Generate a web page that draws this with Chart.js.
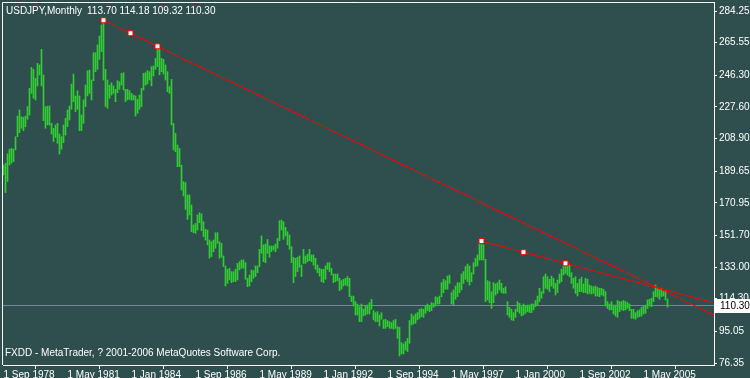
<!DOCTYPE html>
<html>
<head>
<meta charset="utf-8">
<script src="https://cdn.jsdelivr.net/npm/chart.js@4.4.1/dist/chart.umd.min.js"></script>
<style>
  html, body { margin: 0; padding: 0; background: #2f4f4f; overflow: hidden; }
  canvas { display: block; }
</style>
</head>
<body>
<canvas id="mt4" width="750" height="378"></canvas>
<script>
// USDJPY monthly bars, one per month starting Sep 1978 (index 0)
const barHigh = [
  193.3,194.3,199.8,202.6,203.1,202.6,210.0,222.2,225.8,221.8,
  221.5,222.2,227.8,238.6,251.0,249.8,244.5,253.3,252.4,261.6,
  246.5,227.8,228.1,228.1,217.9,215.0,216.9,217.9,211.6,210.0,
  216.9,220.9,225.8,228.1,241.1,247.0,234.1,237.2,234.1,222.8,
  231.7,240.5,249.0,249.4,243.5,259.6,259.6,264.2,269.5,276.0,
  278.8,249.8,243.5,240.5,241.9,240.0,238.0,243.1,242.5,247.4,
  247.8,238.0,238.0,237.2,235.6,234.6,234.1,232.1,234.6,238.6,
  247.4,247.8,249.0,248.4,251.4,251.8,256.3,263.4,261.6,256.3,
  255.7,252.4,248.4,239.6,243.9,217.9,212.0,205.1,203.1,193.3,
  183.5,182.9,175.6,175.6,169.7,157.9,158.8,163.8,165.1,164.4,
  159.8,155.3,154.9,149.0,148.0,149.0,153.3,153.3,148.0,147.0,
  139.6,133.6,131.7,132.3,130.3,130.3,131.7,135.2,136.2,
  137.2,137.2,135.6,126.4,128.3,131.3,130.9,133.7,133.7,143.5,
  151.4,146.1,146.6,149.4,145.5,145.5,145.5,146.6,150.0,160.4,
  160.8,159.8,156.5,153.9,151.9,145.1,138.8,138.2,138.8,139.6,
  134.2,143.5,139.6,140.7,143.5,140.2,140.2,138.2,134.2,132.3,
  131.7,131.7,133.7,135.6,135.6,132.3,128.9,128.9,128.9,126.4,
  125.0,125.8,126.4,127.4,126.4,115.9,115.9,112.6,111.2,109.6,
  111.2,108.1,110.0,110.6,112.0,114.0,107.3,106.1,106.7,104.7,
  106.1,101.8,102.2,101.4,100.8,100.2,101.4,102.2,97.8,97.4,
  88.4,87.6,89.0,90.9,101.4,105.3,104.1,105.3,106.1,108.1,
  108.5,108.1,110.0,111.2,110.0,112.0,111.6,115.5,115.1,115.9,
  123.8,125.8,125.0,127.7,128.3,117.9,119.5,121.8,123.8,123.8,
  128.9,130.3,133.3,134.8,133.7,129.7,135.6,138.2,140.2,147.0,
  148.4,146.1,137.6,125.0,124.4,118.5,123.8,123.0,123.8,125.4,
  123.4,120.5,121.4,112.6,109.2,108.1,106.1,108.1,112.6,111.6,
  109.6,111.2,110.0,110.6,110.6,111.2,111.2,113.2,115.9,120.5,
  118.5,127.3,128.9,127.3,125.8,127.7,126.4,123.4,125.4,128.9,
  131.7,133.6,135.2,135.6,134.2,129.7,126.4,127.3,123.4,125.8,
  127.0,123.0,126.4,125.8,122.4,121.8,121.4,121.8,121.0,120.5,
  120.5,119.9,118.5,112.6,111.2,112.6,110.6,110.6,113.2,112.6,
  112.6,113.2,112.6,112.0,111.2,108.1,108.1,106.1,107.3,107.7,
  109.2,110.0,110.6,113.6,114.0,114.6,118.5,122.4,121.0,120.5,
  120.5,119.5,119.1,114.18
];
const barLow = [
  187.4,177.0,183.5,193.3,194.3,195.3,202.2,210.0,212.4,215.0,
  213.6,215.9,220.3,222.8,235.6,232.7,231.7,240.0,246.5,240.0,
  219.5,215.0,216.9,216.9,211.6,207.1,209.6,206.1,199.8,202.6,
  206.5,211.0,215.9,219.9,226.2,230.7,224.8,226.2,213.6,213.6,
  217.9,227.8,234.1,235.6,231.7,243.1,248.4,249.8,255.7,260.2,
  243.5,227.8,226.8,232.7,234.6,235.6,230.7,236.0,238.0,240.5,
  237.6,230.7,231.7,232.1,231.7,231.7,222.2,223.8,226.2,227.8,
  237.6,240.5,241.1,243.5,240.0,245.9,249.8,251.4,246.5,248.4,
  247.0,243.5,236.6,235.6,216.9,202.2,201.2,192.3,192.3,178.5,
  175.0,167.1,161.2,163.8,153.9,153.3,152.9,154.9,159.2,154.5,
  151.0,149.0,146.1,138.2,139.2,142.1,144.1,147.0,138.2,138.8,
  133.3,121.8,123.4,125.4,123.8,124.4,124.4,125.4,131.3,
  132.3,132.3,125.8,121.4,121.8,124.4,126.4,127.4,129.7,133.3,
  141.1,136.2,135.6,141.1,138.8,142.1,143.1,142.1,144.1,148.6,
  154.9,149.4,151.4,146.1,143.5,135.6,123.8,127.4,130.3,132.9,
  127.4,135.2,135.2,136.2,136.8,136.2,134.2,131.7,129.7,127.7,
  124.4,123.8,125.8,131.7,130.3,128.3,123.8,124.4,125.0,119.1,
  119.9,121.8,122.4,121.8,115.5,112.6,110.0,104.7,104.7,100.8,
  100.8,104.1,104.7,105.3,105.3,108.1,101.8,100.8,100.8,98.2,
  102.2,96.8,96.8,97.8,96.8,96.8,96.3,96.8,90.9,80.5,
  81.7,81.7,84.0,83.1,88.0,98.8,99.4,99.8,101.8,102.7,
  103.7,103.3,105.7,107.3,106.7,107.3,109.2,110.0,111.2,111.2,
  115.5,117.9,119.9,119.9,123.4,111.2,110.6,114.0,115.5,117.9,
  119.5,123.4,125.8,124.4,122.4,124.4,128.9,133.3,133.7,137.2,
  137.2,137.2,112.6,113.6,112.0,108.6,112.0,116.5,117.5,119.5,
  117.9,117.5,117.5,104.7,103.3,101.8,101.4,103.3,106.7,105.7,
  104.1,104.7,105.7,106.7,106.1,106.1,107.7,109.6,110.6,112.6,
  114.6,117.5,120.5,119.9,118.5,121.8,120.5,116.5,117.9,123.4,
  124.4,128.3,129.3,128.3,127.3,123.4,120.5,117.5,115.9,118.5,
  118.5,117.9,117.9,117.1,117.5,117.1,117.5,115.9,115.9,115.5,
  116.5,115.9,110.0,108.6,107.7,107.7,105.3,104.1,103.3,106.7,
  107.7,107.3,107.7,108.6,107.3,102.7,102.7,102.2,103.3,103.7,
  104.1,105.3,105.7,108.6,110.0,109.6,112.6,115.5,115.2,114.0,
  115.5,115.9,113.6,109.32
];

const lastBar = { open: 113.70, high: 114.18, low: 109.32, close: 110.30 };

// time axis labels (bar index -> label)
const dateTickIdx = [0, 32, 64, 96, 128, 160, 192, 224, 256, 288, 320];
const dateTickText = ['1 Sep 1978', '1 May 1981', '1 Jan 1984', '1 Sep 1986', '1 May 1989',
  '1 Jan 1992', '1 Sep 1994', '1 May 1997', '1 Jan 2000', '1 Sep 2002', '1 May 2005'];
const priceTicks = [284.25, 265.55, 246.30, 227.60, 208.90, 189.65, 170.95, 151.70,
  133.00, 114.30, 95.05, 76.35];

// trend lines: two anchor points each (bar index, price)
const trend1X = [50, 77];
const trend1Y = [278.8, 263.4];
const trend2X = [239, 281];
const trend2Y = [148.4, 135.2];

const X_MIN = -0.25, X_MAX = 355.25;
const Y_MIN = 75.17, Y_MAX = 289.57;

const bars = barHigh.map((h, i) => ({ x: i, y: [barLow[i], h] }));

function ray(xs, ys) {
  const k = (ys[1] - ys[0]) / (xs[1] - xs[0]);
  return [{ x: xs[0], y: ys[0] }, { x: X_MAX, y: ys[0] + k * (X_MAX - xs[0]) }];
}
function handles(xs, ys) {
  return [
    { x: xs[0], y: ys[0] },
    { x: (xs[0] + xs[1]) / 2, y: (ys[0] + ys[1]) / 2 },
    { x: xs[1], y: ys[1] }
  ];
}

const mt4Look = {
  id: 'mt4Look',
  beforeDraw(chart) {
    const c = chart.ctx;
    c.save();
    c.fillStyle = '#2f4f4f';
    c.fillRect(0, 0, chart.width, chart.height);
    c.restore();
  },
  afterDatasetsDraw(chart) {
    const c = chart.ctx, a = chart.chartArea;
    c.save();
    c.strokeStyle = '#ffffff';
    c.lineWidth = 1;
    c.beginPath();
    c.moveTo(2.5, a.bottom);
    c.lineTo(2.5, 2.5);
    c.lineTo(a.right, 2.5);
    c.stroke();
    c.restore();
  },
  afterDraw(chart) {
    const c = chart.ctx;
    const yS = chart.scales.y;
    c.save();
    c.font = '10px "Liberation Sans"';
    c.fillStyle = '#ffffff';
    c.textBaseline = 'alphabetic';
    c.fillText('USDJPY,Monthly', 6, 14);
    c.fillText([lastBar.open, lastBar.high, lastBar.low, lastBar.close].map(v => v.toFixed(2)).join(' '), 87, 14);
    c.fillText('FXDD - MetaTrader, ? 2001-2006 MetaQuotes Software Corp.', 5, 356);
    // current price label
    const py = Math.round(yS.getPixelForValue(lastBar.close));
    c.fillStyle = '#ffffff';
    c.fillRect(715, py - 7, 35, 14);
    c.fillStyle = '#000000';
    c.textBaseline = 'middle';
    c.fillText(lastBar.close.toFixed(2), 720, py + 0.5);
    c.restore();
  }
};

Chart.defaults.font.family = '"Liberation Sans", Arial, sans-serif';
Chart.defaults.font.size = 10;

new Chart(document.getElementById('mt4'), {
  type: 'bar',
  data: {
    datasets: [
      {
        type: 'line',
        data: handles(trend1X, trend1Y).concat(handles(trend2X, trend2Y)),
        showLine: false,
        pointStyle: 'rect',
        pointRadius: 3.5,
        pointBackgroundColor: '#ffffff',
        pointBorderColor: '#ff0000',
        pointBorderWidth: 1,
        order: 0
      },
      {
        type: 'line',
        data: ray(trend1X, trend1Y),
        borderColor: '#ff0000',
        borderWidth: 1.2,
        borderDash: [4, 1],
        pointRadius: 0,
        order: 1
      },
      {
        type: 'line',
        data: ray(trend2X, trend2Y),
        borderColor: '#ff0000',
        borderWidth: 1.2,
        borderDash: [4, 1],
        pointRadius: 0,
        order: 1
      },
      {
        type: 'line',
        data: [{ x: X_MIN, y: lastBar.close }, { x: X_MAX, y: lastBar.close }],
        borderColor: '#778899',
        borderWidth: 1,
        pointRadius: 0,
        order: 2
      },
      {
        type: 'bar',
        data: bars,
        backgroundColor: '#32cd32',
        borderWidth: 0,
        barThickness: 1,
        order: 3
      }
    ]
  },
  options: {
    responsive: false,
    animation: false,
    devicePixelRatio: 1,
    layout: { autoPadding: false, padding: { left: 3, top: 2, right: 0, bottom: 0 } },
    plugins: { legend: { display: false }, tooltip: { enabled: false } },
    scales: {
      x: {
        type: 'linear',
        min: X_MIN,
        max: X_MAX,
        offset: false,
        afterBuildTicks: s => { s.ticks = dateTickIdx.map(v => ({ value: v })); },
        afterFit: s => { s.height = 13; s.paddingLeft = 0; s.paddingRight = 0; },
        grid: { drawOnChartArea: false, tickLength: 4, color: '#ffffff' },
        border: { color: '#ffffff' },
        ticks: {
          color: '#ffffff', align: 'start', maxRotation: 0, autoSkip: false, padding: 0,
          callback: (v, i) => dateTickText[i]
        }
      },
      y: {
        position: 'right',
        min: Y_MIN,
        max: Y_MAX,
        afterBuildTicks: s => { s.ticks = priceTicks.map(v => ({ value: v })); },
        afterFit: s => { s.width = 36; s.paddingTop = 0; s.paddingBottom = 0; },
        grid: { drawOnChartArea: false, tickLength: 3, color: '#ffffff' },
        border: { color: '#ffffff' },
        ticks: { color: '#ffffff', padding: 2, callback: v => v.toFixed(2) }
      }
    }
  },
  plugins: [mt4Look]
});
</script>
</body>
</html>
